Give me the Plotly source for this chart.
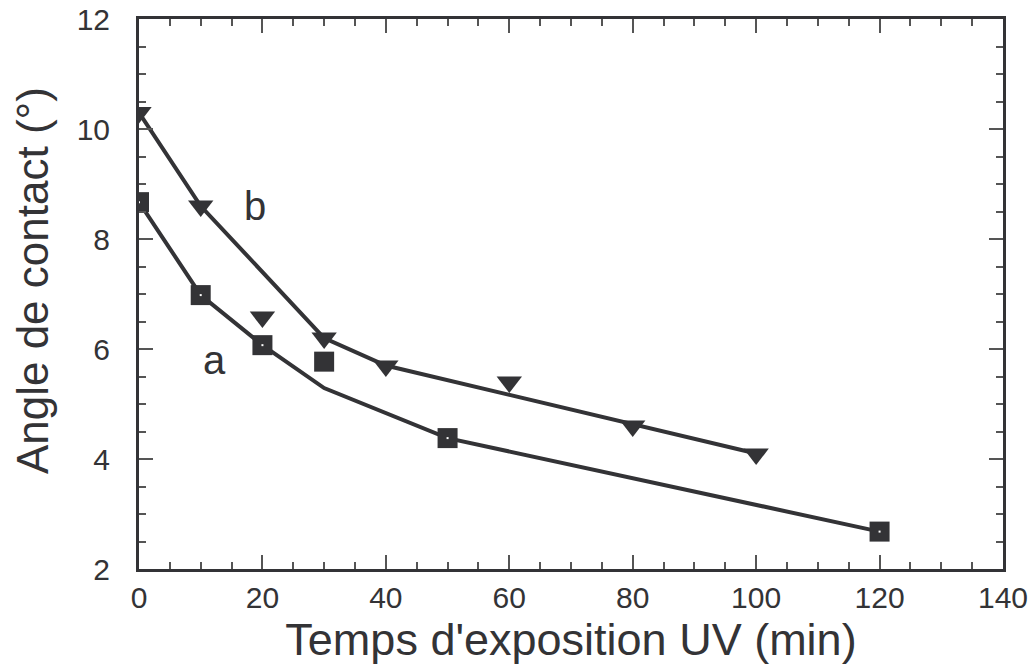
import plotly.graph_objs as go

# points mesurés
temps_a = [0, 10, 20, 30, 50, 120]
angle_a = [8.67, 6.98, 6.07, 5.77, 4.38, 2.68]
temps_b = [0, 10, 20, 30, 40, 60, 80, 100]
angle_b = [10.3, 8.6, 6.58, 6.2, 5.69, 5.4, 4.6, 4.09]

# courbes tracées (ajustement)
fit_a_x = [0, 10, 20, 30, 50, 120]
fit_a_y = [8.67, 6.98, 6.07, 5.29, 4.38, 2.68]
fit_b_x = [0, 10, 30, 40, 100]
fit_b_y = [10.3, 8.6, 6.2, 5.7, 4.1]

# petits points blancs au centre des carrés
dots_x = [0, 10, 20, 50, 120]
dots_y = [8.67, 6.98, 6.07, 4.38, 2.68]

ink = '#333336'
font = 'Liberation Sans, Arial, sans-serif'

fig = go.Figure()
fig.add_trace(go.Scatter(x=fit_a_x, y=fit_a_y, mode='lines', line=dict(color=ink, width=4)))
fig.add_trace(go.Scatter(x=fit_b_x, y=fit_b_y, mode='lines', line=dict(color=ink, width=4)))
fig.add_trace(go.Scatter(x=temps_a, y=angle_a, mode='markers',
                         marker=dict(symbol='square', size=20, color=ink)))
fig.add_trace(go.Scatter(x=temps_b, y=angle_b, mode='markers',
                         marker=dict(symbol='triangle-down', size=22, color=ink)))
fig.add_trace(go.Scatter(x=dots_x, y=dots_y, mode='markers',
                         marker=dict(symbol='square', size=2, color='white')))

fig.add_annotation(x=12.3, y=5.8, text='a', showarrow=False, font=dict(size=40, color=ink, family=font))
fig.add_annotation(x=18.8, y=8.6, text='b', showarrow=False, font=dict(size=40, color=ink, family=font))
# titre de l'axe y
fig.add_annotation(xref='paper', yref='paper', x=-0.124, y=0.525, textangle=-90,
                   xanchor='center', yanchor='middle',
                   text='Angle de contact (°)', showarrow=False,
                   font=dict(size=44, color=ink, family=font))

axis_common = dict(
    showgrid=False, zeroline=False, showline=True, linecolor=ink, linewidth=3,
    mirror='allticks', ticks='inside', ticklen=14, tickwidth=1.5, tickcolor='#555',
    tickfont=dict(size=30, color=ink, family=font), automargin=False,
    ticklabeloverflow='allow',
)

fig.update_layout(
    width=1034, height=670,
    margin=dict(l=139, r=31, t=19, b=101),
    plot_bgcolor='white', paper_bgcolor='white',
    showlegend=False,
    xaxis=dict(range=[0, 140], dtick=20, tick0=0,
               minor=dict(dtick=5, ticks='inside', ticklen=7, tickcolor='#555', tickwidth=1.5),
               title=dict(text="Temps d'exposition UV (min)", standoff=10,
                          font=dict(size=45, color=ink, family=font)),
               **axis_common),
    yaxis=dict(range=[2, 12], dtick=2, tick0=2, ticklabelstandoff=20,
               minor=dict(dtick=0.5, ticks='inside', ticklen=7, tickcolor='#555', tickwidth=1.5),
               **axis_common),
)

# pas de marge autour de la figure dans la page, pas de barre d'outils
fig.write_html("out.html", config={'displayModeBar': False},
               post_script="document.body.style.margin='0';")
